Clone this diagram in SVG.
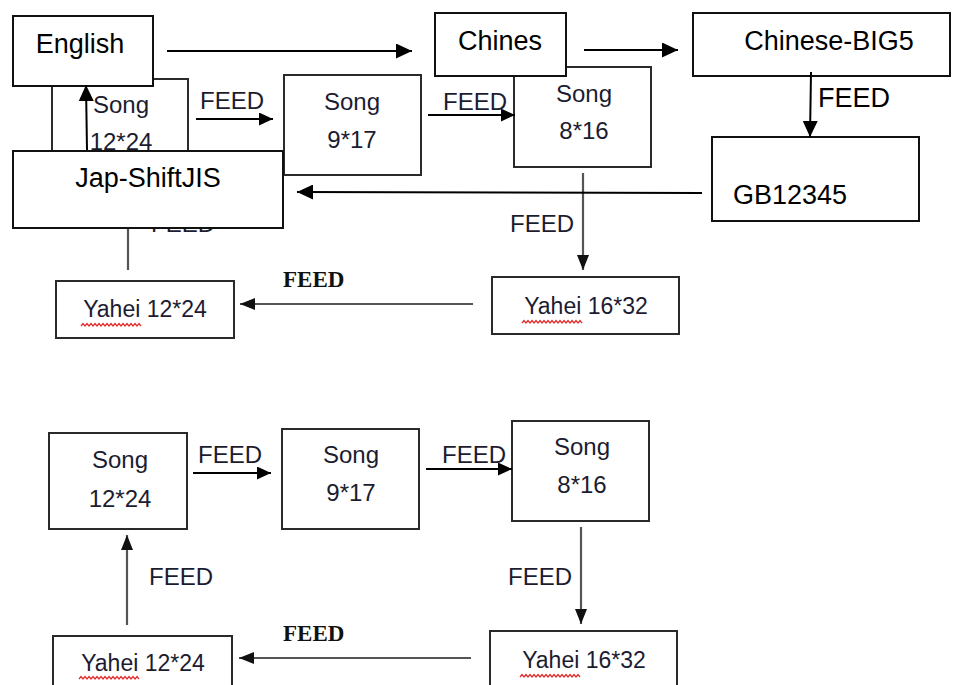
<svg xmlns="http://www.w3.org/2000/svg" width="953" height="685" viewBox="0 0 953 685">
<style>
.box{fill:#fff;stroke:#111;stroke-width:2}
.sbox{fill:#fff;stroke:#2a2a2a;stroke-width:2}
.t{font-family:"Liberation Sans",Arial,sans-serif;fill:#000}
.big{font-size:27px}
.mid{font-size:23px;fill:#1c1c30}
.song{font-size:24px;fill:#1c1c30}
.feed{font-family:"Liberation Sans",Arial,sans-serif;font-size:24px;fill:#1c1c30}
.sfeed{font-family:"Liberation Serif","Times New Roman",serif;font-weight:bold;font-size:23px;fill:#111}
.c{stroke:#000;stroke-width:2;fill:none}
.g{stroke:#555;stroke-width:2.2;fill:none}
.wavy{stroke:#e03030;stroke-width:1.3;fill:none}
</style>
<defs>
<marker id="ab" markerUnits="userSpaceOnUse" markerWidth="16" markerHeight="15" refX="16" refY="7.5" orient="auto"><path d="M0,0 L16,7.5 L0,15 z" fill="#000"/></marker>
<marker id="as" markerUnits="userSpaceOnUse" markerWidth="14" markerHeight="13" refX="14" refY="6.5" orient="auto"><path d="M0,0 L14,6.5 L0,13 z" fill="#000"/></marker>
<marker id="ag" markerUnits="userSpaceOnUse" markerWidth="15" markerHeight="12" refX="15" refY="6" orient="auto"><path d="M0,0 L15,6 L0,12 z" fill="#111"/></marker>
</defs>

<!-- TOP SECTION -->
<g id="top-song1224"><rect class="sbox" x="52" y="79" width="136" height="96"/><text class="t song" x="121" y="113" text-anchor="middle">Song</text><text class="t song" x="121" y="150" text-anchor="middle">12*24</text></g>
<g id="top-song917"><rect class="sbox" x="284" y="75" width="137" height="100"/><text class="t song" x="352" y="110" text-anchor="middle">Song</text><text class="t song" x="352" y="148" text-anchor="middle">9*17</text></g>
<g id="top-song816"><rect class="sbox" x="514" y="67" width="137" height="100"/><text class="t song" x="584" y="102" text-anchor="middle">Song</text><text class="t song" x="584" y="139" text-anchor="middle">8*16</text></g>
<g id="top-yahei1632"><rect class="sbox" x="492" y="277" width="187" height="57"/><text class="t mid" x="586" y="314" text-anchor="middle">Yahei 16*32</text><path class="wavy" d="M522,323 l2,-2.5 2,2.5 2,-2.5 2,2.5 2,-2.5 2,2.5 2,-2.5 2,2.5 2,-2.5 2,2.5 2,-2.5 2,2.5 2,-2.5 2,2.5 2,-2.5 2,2.5 2,-2.5 2,2.5 2,-2.5 2,2.5 2,-2.5 2,2.5 2,-2.5 2,2.5 2,-2.5 2,2.5 2,-2.5 2,2.5 2,-2.5 2,2.5"/></g>
<g id="top-yahei1224"><rect class="sbox" x="56" y="281" width="178" height="57"/><text class="t mid" x="145" y="317" text-anchor="middle">Yahei 12*24</text><path class="wavy" d="M81,326 l2,-2.5 2,2.5 2,-2.5 2,2.5 2,-2.5 2,2.5 2,-2.5 2,2.5 2,-2.5 2,2.5 2,-2.5 2,2.5 2,-2.5 2,2.5 2,-2.5 2,2.5 2,-2.5 2,2.5 2,-2.5 2,2.5 2,-2.5 2,2.5 2,-2.5 2,2.5 2,-2.5 2,2.5 2,-2.5 2,2.5 2,-2.5 2,2.5"/></g>

<g id="top-connectors">
<line class="c" x1="196" y1="119" x2="273" y2="119" marker-end="url(#as)"/>
<text class="feed" x="200" y="109">FEED</text>
<line class="c" x1="428" y1="115" x2="515" y2="115" marker-end="url(#as)"/>
<text class="feed" x="443" y="110">FEED</text>
<line class="g" x1="583" y1="173" x2="583" y2="270" marker-end="url(#ag)"/>
<text class="feed" x="510" y="232">FEED</text>
<line class="g" x1="473" y1="304" x2="240" y2="304" marker-end="url(#ag)"/>
<text class="sfeed" x="283" y="287">FEED</text>
<line class="g" x1="128" y1="270" x2="128" y2="181" marker-end="url(#ag)"/>
<text class="feed" x="151" y="232">FEED</text>
</g>

<g id="english"><rect class="box" x="13" y="16" width="140" height="70"/><text class="t big" x="80" y="53" text-anchor="middle">English</text></g>
<g id="chines"><rect class="box" x="435" y="13" width="131" height="63"/><text class="t big" x="500" y="50" text-anchor="middle">Chines</text></g>
<g id="chinese-big5"><rect class="box" x="693" y="13" width="257" height="63"/><text class="t big" x="829" y="50" text-anchor="middle">Chinese-BIG5</text></g>
<g id="gb12345"><rect class="box" x="712" y="137" width="207" height="84"/><text class="t big" x="733" y="204">GB12345</text></g>
<g id="jap-shiftjis"><rect class="box" x="13" y="151" width="270" height="77"/><text class="t big" x="148" y="187" text-anchor="middle">Jap-ShiftJIS</text></g>

<g id="encoding-connectors">
<line class="c" x1="167" y1="51" x2="412" y2="51" marker-end="url(#ab)"/>
<line class="c" x1="584" y1="50" x2="678" y2="50" marker-end="url(#ab)"/>
<line class="c" x1="811" y1="72" x2="810" y2="137" marker-end="url(#ab)"/>
<text class="t big" x="818" y="107">FEED</text>
<line class="c" x1="702" y1="193" x2="297" y2="192" marker-end="url(#ab)"/>
<line class="c" x1="87" y1="150" x2="86" y2="85" marker-end="url(#ab)"/>
</g>

<!-- BOTTOM SECTION -->
<g id="song1224"><rect class="sbox" x="49" y="433" width="138" height="96"/><text class="t song" x="120" y="468" text-anchor="middle">Song</text><text class="t song" x="120" y="507" text-anchor="middle">12*24</text></g>
<g id="song917"><rect class="sbox" x="282" y="429" width="137" height="100"/><text class="t song" x="351" y="463" text-anchor="middle">Song</text><text class="t song" x="351" y="501" text-anchor="middle">9*17</text></g>
<g id="song816"><rect class="sbox" x="512" y="421" width="137" height="100"/><text class="t song" x="582" y="455" text-anchor="middle">Song</text><text class="t song" x="582" y="493" text-anchor="middle">8*16</text></g>
<g id="yahei1632"><rect class="sbox" x="490" y="631" width="187" height="70"/><text class="t mid" x="584" y="668" text-anchor="middle">Yahei 16*32</text><path class="wavy" d="M520,677 l2,-2.5 2,2.5 2,-2.5 2,2.5 2,-2.5 2,2.5 2,-2.5 2,2.5 2,-2.5 2,2.5 2,-2.5 2,2.5 2,-2.5 2,2.5 2,-2.5 2,2.5 2,-2.5 2,2.5 2,-2.5 2,2.5 2,-2.5 2,2.5 2,-2.5 2,2.5 2,-2.5 2,2.5 2,-2.5 2,2.5 2,-2.5 2,2.5"/></g>
<g id="yahei1224"><rect class="sbox" x="53" y="636" width="179" height="70"/><text class="t mid" x="143" y="671" text-anchor="middle">Yahei 12*24</text><path class="wavy" d="M79,679 l2,-2.5 2,2.5 2,-2.5 2,2.5 2,-2.5 2,2.5 2,-2.5 2,2.5 2,-2.5 2,2.5 2,-2.5 2,2.5 2,-2.5 2,2.5 2,-2.5 2,2.5 2,-2.5 2,2.5 2,-2.5 2,2.5 2,-2.5 2,2.5 2,-2.5 2,2.5 2,-2.5 2,2.5 2,-2.5 2,2.5 2,-2.5 2,2.5"/></g>

<g id="bottom-connectors">
<line class="c" x1="193" y1="473" x2="271" y2="473" marker-end="url(#as)"/>
<text class="feed" x="198" y="463">FEED</text>
<line class="c" x1="426" y1="469" x2="512" y2="469" marker-end="url(#as)"/>
<text class="feed" x="442" y="463">FEED</text>
<line class="g" x1="581" y1="527" x2="581" y2="624" marker-end="url(#ag)"/>
<text class="feed" x="508" y="585">FEED</text>
<line class="g" x1="471" y1="658" x2="239" y2="658" marker-end="url(#ag)"/>
<text class="sfeed" x="283" y="641">FEED</text>
<line class="g" x1="127" y1="625" x2="127" y2="535" marker-end="url(#ag)"/>
<text class="feed" x="149" y="585">FEED</text>
</g>
</svg>
